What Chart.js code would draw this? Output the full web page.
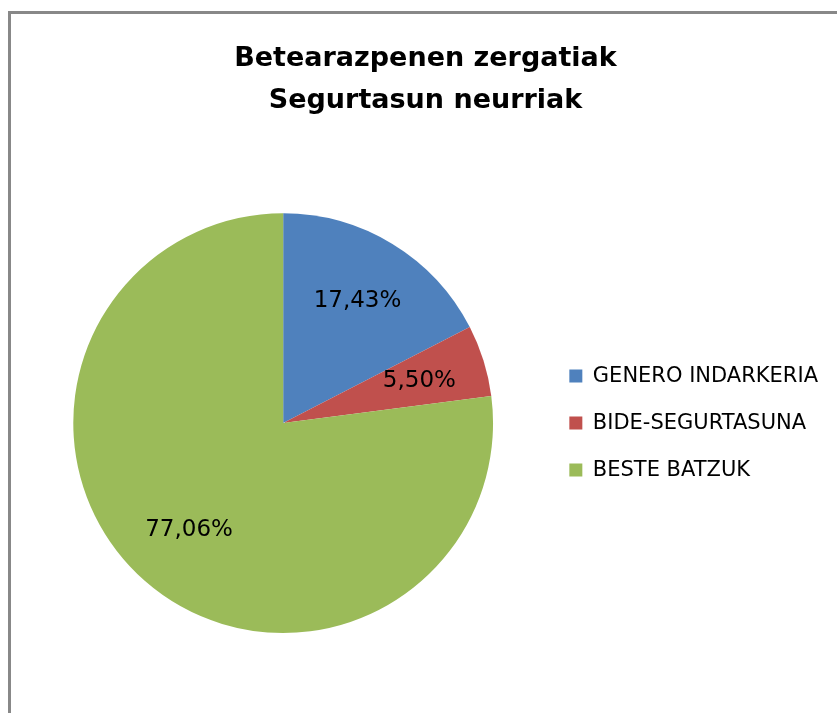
<!DOCTYPE html>
<html lang="eu">
<head>
  <meta charset="UTF-8">
  <title>Betearazpenen zergatiak</title>
  <script src="https://cdn.jsdelivr.net/npm/chart.js"></script>
  <style>
    body { margin: 0; background: #fff; overflow: hidden; }
    .marco {
      position: absolute; left: 8px; top: 11px; width: 900px; height: 800px;
      border-left: 3px solid #888; border-top: 3px solid #888;
    }
    #grafikoa { position: absolute; left: 11px; top: 14px; }
  </style>
</head>
<body>
  <div class="marco"></div>
  <canvas id="grafikoa" width="836" height="699"></canvas>

<script>
  const kategoriak = ['GENERO INDARKERIA', 'BIDE-SEGURTASUNA', 'BESTE BATZUK'];
  const ehunekoak = [17.43, 5.50, 77.06];
  const koloreak = ['#4F81BD', '#C0504D', '#9BBB59'];
  const izenburua = ['Betearazpenen zergatiak', 'Segurtasun neurriak'];

  // etiketak zati bakoitzaren barruan
  const etiketak = {
    id: 'etiketak',
    afterDatasetsDraw(chart) {
      const ctx = chart.ctx;
      const meta = chart.getDatasetMeta(0);
      ctx.save();
      ctx.font = '23px "DejaVu Sans"';
      ctx.fillStyle = '#000';
      ctx.textAlign = 'center';
      ctx.textBaseline = 'middle';
      meta.data.forEach((arc, i) => {
        const p = arc.getProps(['x', 'y', 'startAngle', 'endAngle', 'outerRadius'], true);
        const erdia = (p.startAngle + p.endAngle) / 2;
        const r = p.outerRadius * 0.68;
        const testua = ehunekoak[i].toFixed(2).replace('.', ',') + '%';
        ctx.fillText(testua, p.x + Math.cos(erdia) * r, p.y + Math.sin(erdia) * r);
      });
      ctx.restore();
    }
  };

  const grafikoa = new Chart(document.getElementById('grafikoa'), {
    type: 'pie',
    data: {
      labels: kategoriak,
      datasets: [{
        data: ehunekoak,
        backgroundColor: koloreak,
        borderWidth: 0
      }]
    },
    options: {
      responsive: false,
      animation: false,
      layout: { padding: { left: 12, right: 19, bottom: 80 } },
      plugins: {
        title: {
          display: true,
          text: izenburua,
          color: '#000',
          font: { family: 'DejaVu Sans', size: 27, weight: 'bold', lineHeight: 1.56 },
          padding: { top: 24, bottom: 91 }
        },
        legend: {
          position: 'right',
          fullSize: false,
          labels: {
            color: '#000',
            font: { family: 'DejaVu Sans', size: 21 },
            boxWidth: 13,
            boxHeight: 13,
            padding: 26
          }
        },
        tooltip: { enabled: false }
      }
    },
    plugins: [etiketak]
  });
</script>
</body>
</html>
